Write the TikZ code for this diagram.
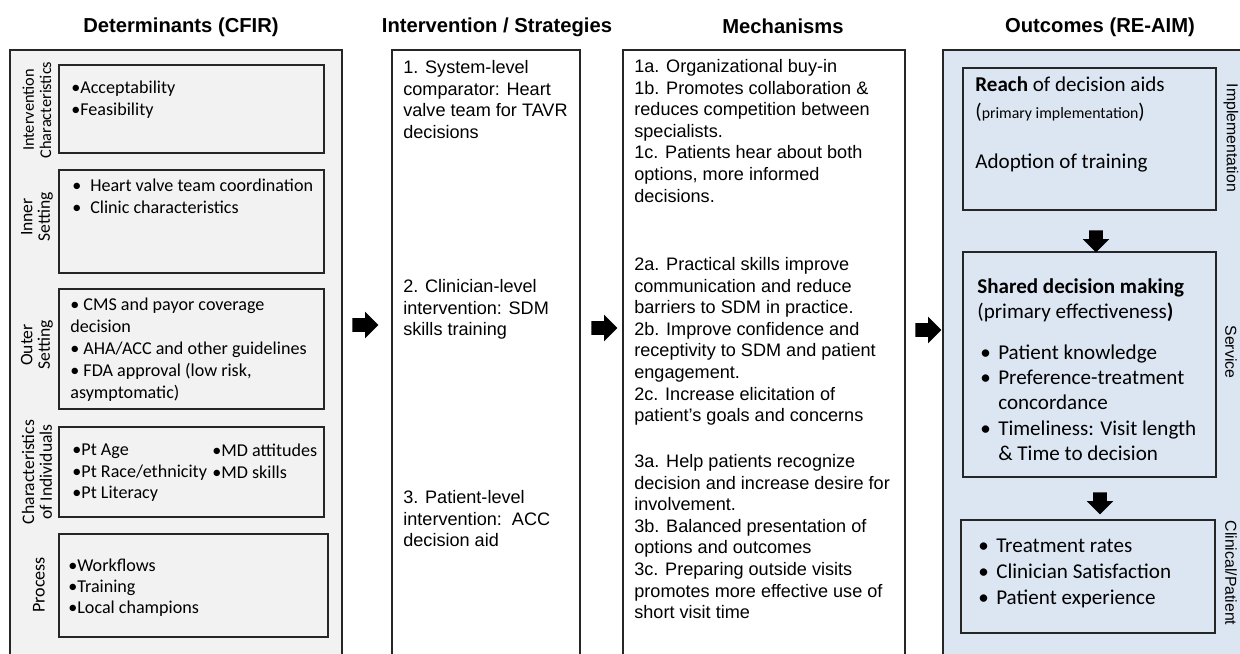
\documentclass[tikz,border=0pt]{standalone}
\usepackage{fontspec}
\setmainfont{Liberation Sans}
\newfontfamily\carlito{Carlito}
\usetikzlibrary{fit,shapes.arrows}
\definecolor{boxgray}{RGB}{242,242,242}
\definecolor{boxblue}{RGB}{220,230,242}
\definecolor{linegray}{RGB}{38,38,38}
\newcommand{\obul}{\makebox[10.2pt][l]{\textbullet}}
\tikzset{
  outerbox/.style={draw=linegray, line width=0.9pt, inner sep=0pt},
  innerbox/.style={draw=linegray, line width=1.1pt, inner sep=0pt},
  heading/.style={inner sep=0pt, font=\fontsize{11.5}{13}\selectfont\bfseries},
  cfirtxt/.style={anchor=north west, inner sep=0pt, align=left, font=\carlito\fontsize{10.3}{12.2}\selectfont},
  plaintxt/.style={anchor=north west, inner sep=0pt, align=left, font=\fontsize{10.3}{12.3}\selectfont},
  outtxt/.style={anchor=north west, inner sep=0pt, align=left, font=\carlito\fontsize{12}{14.5}\selectfont},
  sidelabel/.style={rotate=90, align=center, inner sep=0pt, font=\carlito\fontsize{10}{10}\selectfont},
  reaimlabel/.style={rotate=-90, inner sep=0pt, font=\fontsize{9}{10}\selectfont},
  blockarrow/.style={single arrow, fill=black, draw=none, inner xsep=0pt, inner ysep=3.7pt,
    minimum height=14.8pt, single arrow head extend=3.7pt},
  downarrow/.style={blockarrow, shape border rotate=270, inner xsep=3.7pt, inner ysep=0pt,
    minimum height=12.5pt}
}
\begin{document}
\begin{tikzpicture}[x=0.02cm, y=-0.02cm]
  \useasboundingbox (0,0) rectangle (1240,653);
  \clip (0,0) rectangle (1240,653);

  \node[heading] (hdet) at (181,27) {Determinants (CFIR)};
  \node[heading] (hint) at (497,27) {Intervention / Strategies};
  \node[heading] (hmech) at (783,26) {Mechanisms};
  \node[heading] (hout) at (1100,27) {Outcomes (RE-AIM)};

  \node[outerbox, fill=boxgray, fit={(10,50) (342,690)}] (det) {};
  \node[outerbox, fit={(392,50) (580,690)}] (int) {};
  \node[outerbox, fit={(623,50) (905,690)}] (mech) {};
  \node[outerbox, fill=boxblue, fit={(943,50) (1270,690)}] (out) {};

  \node[innerbox, fit={(59,65) (324,153)}] (ic) {};
  \node[innerbox, fit={(59,170) (324,273)}] (is) {};
  \node[innerbox, fit={(59,289) (324,409)}] (os) {};
  \node[innerbox, fit={(59,427) (324,517)}] (ci) {};
  \node[innerbox, fit={(59,534) (328,637)}] (pr) {};

  \node[sidelabel, font=\carlito\fontsize{9.3}{9.8}\selectfont] (lic) at (37,110) {Intervention\\Characteristics};
  \node[sidelabel] (lis) at (37,217) {Inner\\Setting};
  \node[sidelabel] (los) at (37,345) {Outer\\Setting};
  \node[sidelabel] (lci) at (37,472) {Characteristics\\of Individuals};
  \node[sidelabel, font=\carlito\fontsize{10.3}{11}\selectfont] (lpr) at (39,585) {Process};

  \node[cfirtxt] (tic) at (71,81) {\textbullet Acceptability\\\textbullet Feasibility};
  \node[cfirtxt] (tis) at (72,179) {\obul Heart valve team coordination\\\obul Clinic characteristics};
  \node[cfirtxt, font=\carlito\fontsize{10.3}{12.4}\selectfont] (tos) at (70,298)
    {\textbullet{} CMS and payor coverage\\decision\\\textbullet{} AHA/ACC and other guidelines\\
     \textbullet{} FDA approval (low risk,\\asymptomatic)};
  \node[cfirtxt] (tci) at (72,444) {\textbullet Pt Age\\\textbullet Pt Race/ethnicity\\\textbullet Pt Literacy};
  \node[cfirtxt] (tmd) at (212,444) {\textbullet MD attitudes\\\textbullet MD skills};
  \node[cfirtxt, font=\carlito\fontsize{10.3}{11.7}\selectfont] (tpr) at (68,559)
    {\textbullet Workflows\\\textbullet Training\\\textbullet Local champions};

  \node[plaintxt] (i1) at (403,60) {1. System-level\\comparator: Heart\\valve team for TAVR\\decisions};
  \node[plaintxt] (i2) at (403,279) {2. Clinician-level\\intervention: SDM\\skills training};
  \node[plaintxt] (i3) at (403,490) {3. Patient-level\\intervention:\ \ ACC\\decision aid};

  \node[plaintxt] (m1) at (634,59) {1a. Organizational buy-in\\1b. Promotes collaboration \&\\
    reduces competition between\\specialists.\\1c. Patients hear about both\\options, more informed\\decisions.};
  \node[plaintxt] (m2) at (634,257) {2a. Practical skills improve\\communication and reduce\\
    barriers to SDM in practice.\\2b. Improve confidence and\\receptivity to SDM and patient\\
    engagement.\\2c. Increase elicitation of\\patient's goals and concerns};
  \node[plaintxt] (m3) at (634,454) {3a. Help patients recognize\\decision and increase desire for\\
    involvement.\\3b. Balanced presentation of\\options and outcomes\\3c. Preparing outside visits\\
    promotes more effective use of\\short visit time};

  \node[innerbox, fill=boxblue, fit={(963,68) (1216,210)}] (reach) {};
  \node[innerbox, fill=boxblue, fit={(963,252) (1216,477)}] (sdm) {};
  \node[innerbox, fill=boxblue, fit={(961,520) (1215,633)}] (clin) {};

  \node[outtxt] (o1) at (975,76) {\textbf{Reach} of decision aids\\[1pt]
    ({\fontsize{9}{10}\selectfont primary implementation})};
  \node[outtxt] (o1b) at (975,154) {Adoption of training};
  \node[outtxt] (o2) at (977,278) {\textbf{Shared decision making}\\(primary effectiveness\textbf{)}};
  \node[outtxt] (o2b) at (980,344) {\obul Patient knowledge\\\obul Preference-treatment\\
    \hspace*{10.2pt}concordance\\\obul Timeliness: Visit length\\\hspace*{10.2pt}\& Time to decision};
  \node[outtxt, font=\carlito\fontsize{12}{14.8}\selectfont] (o3) at (978,539)
    {\obul Treatment rates\\\obul Clinician Satisfaction\\\obul Patient experience};

  \node[reaimlabel] (limp) at (1231,138) {Implementation};
  \node[reaimlabel] (lser) at (1231,352) {Service};
  \node[reaimlabel] (lcp) at (1231,573) {Clinical/Patient};

  \node[blockarrow] (a1) at (362,325) {};
  \node[blockarrow] (a2) at (601,328) {};
  \node[blockarrow] (a3) at (925,330) {};
  \node[downarrow] (d1) at (1096,238) {};
  \node[downarrow] (d2) at (1100,500) {};
\end{tikzpicture}
\end{document}
